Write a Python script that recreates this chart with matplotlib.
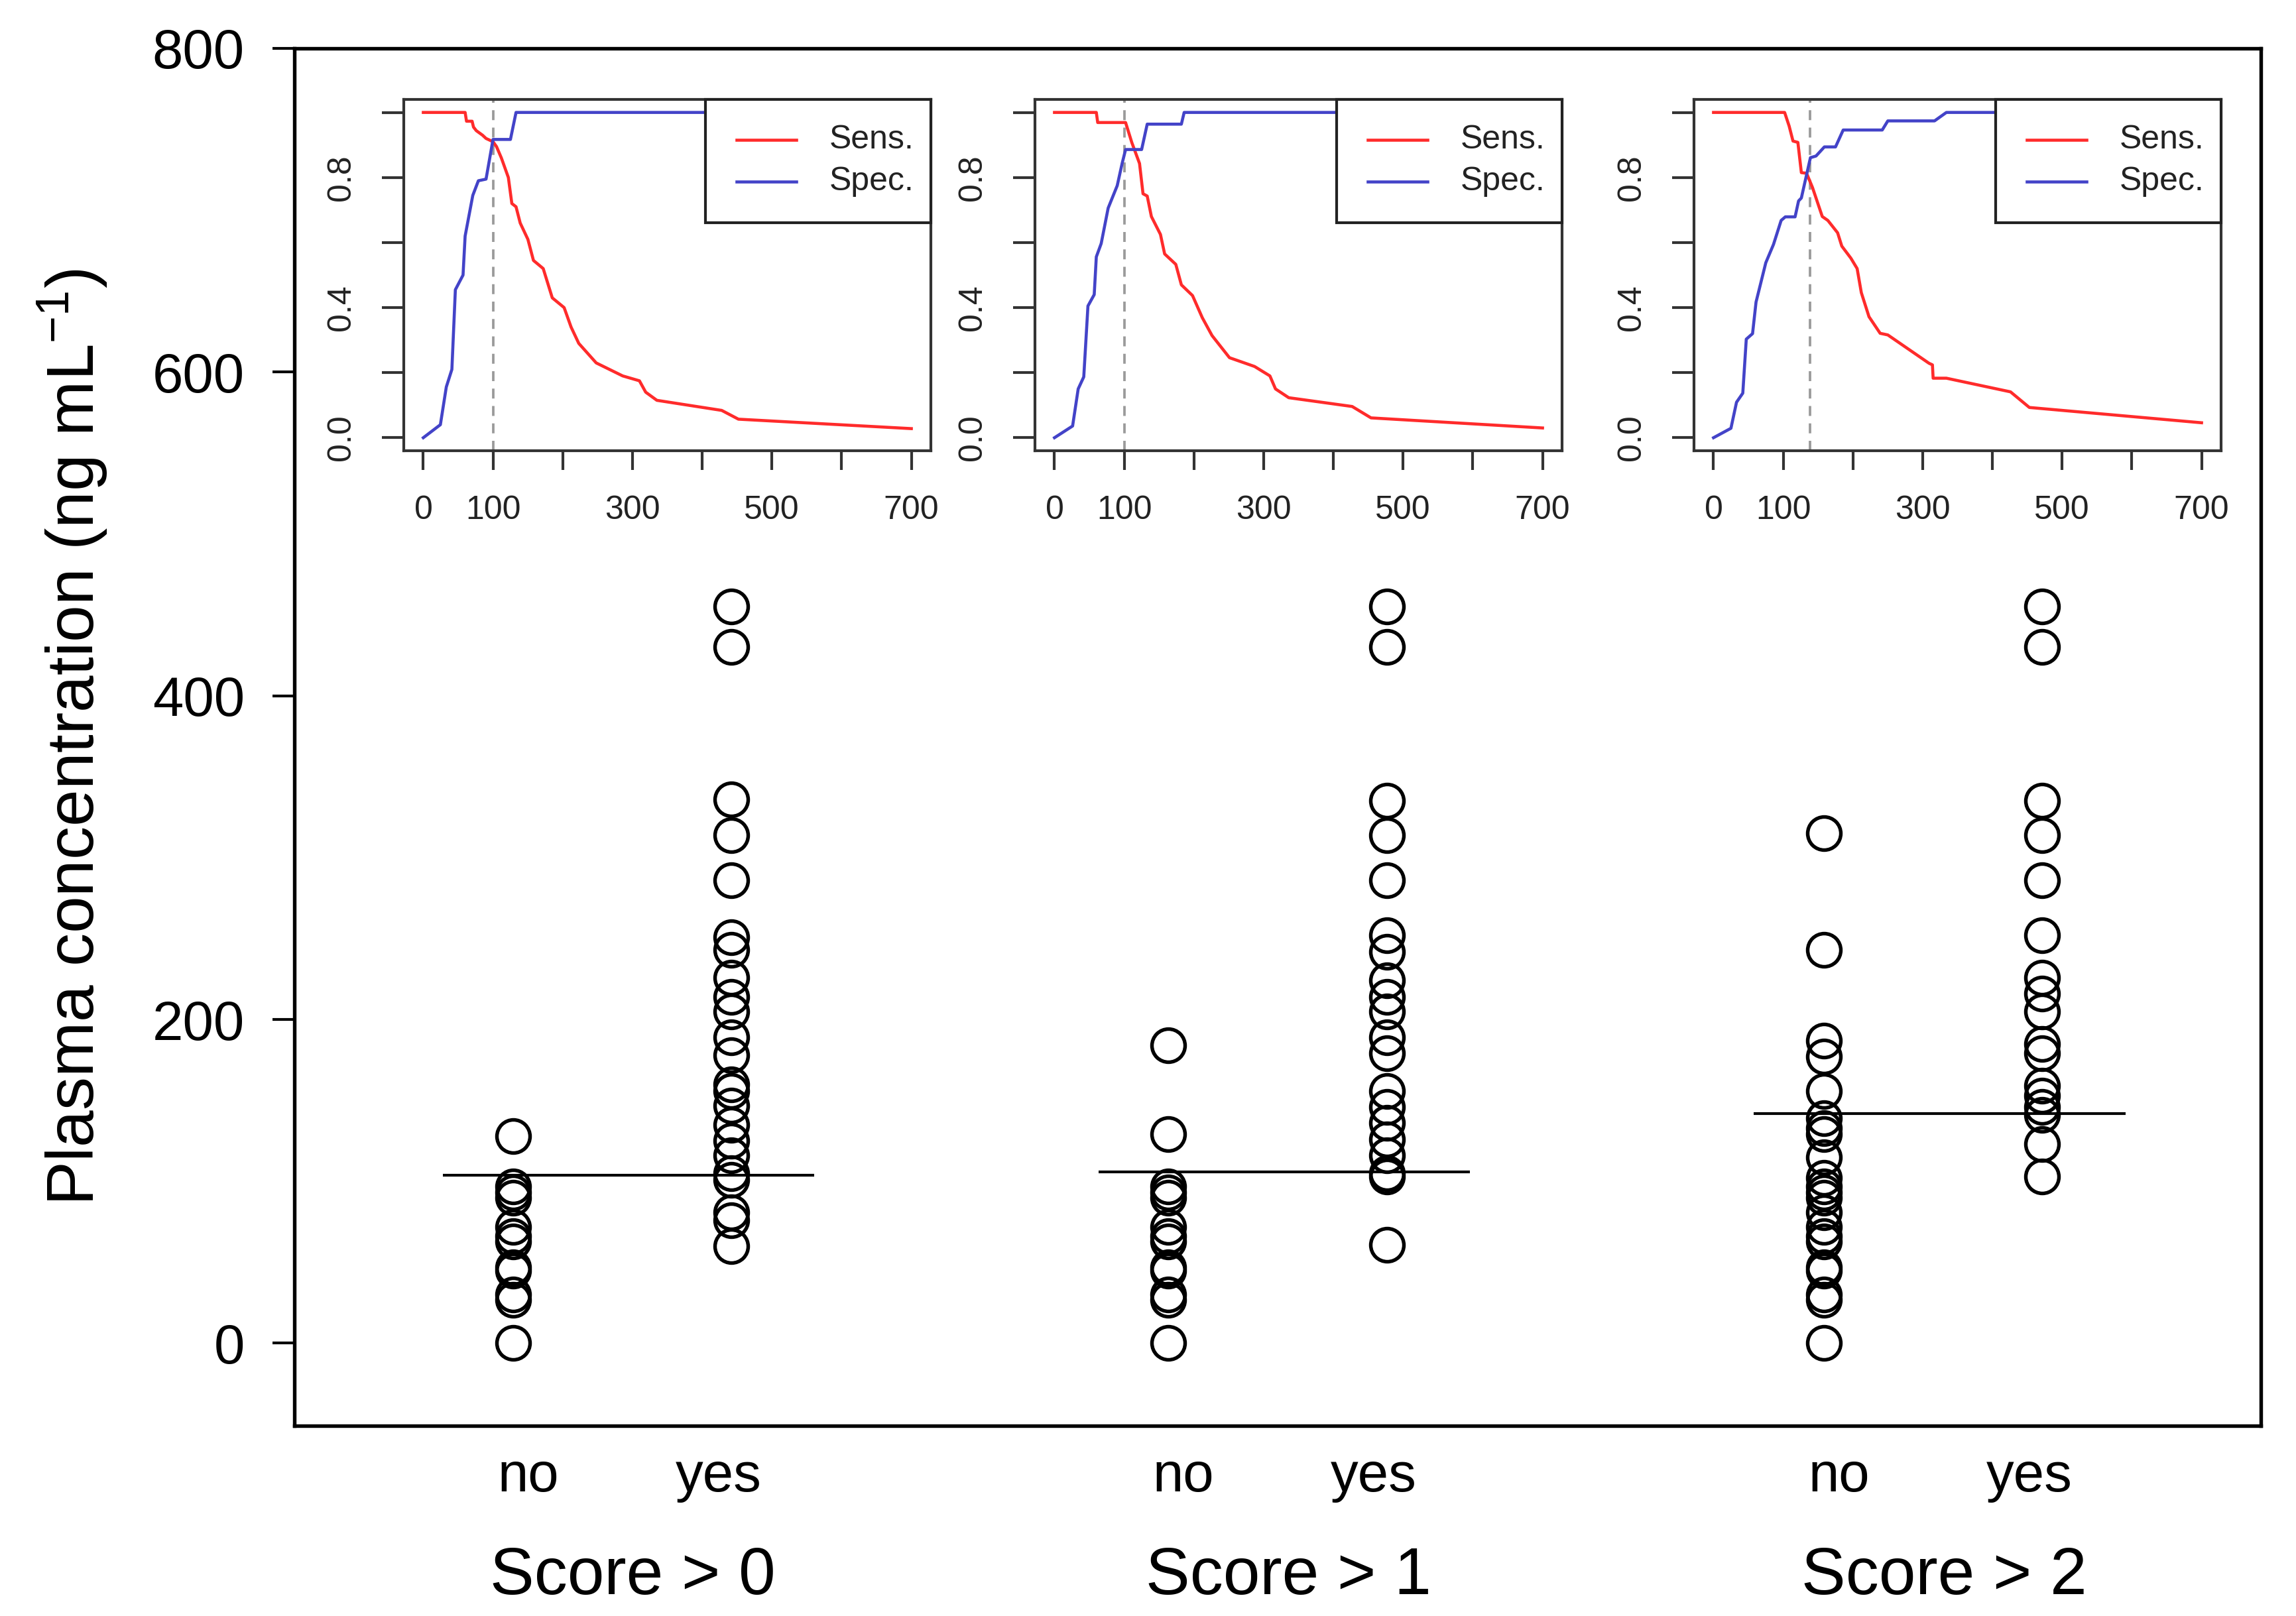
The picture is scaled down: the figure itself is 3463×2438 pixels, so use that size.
import numpy as np
import matplotlib
matplotlib.use('Agg')
import matplotlib.pyplot as plt
import matplotlib.transforms as mtransforms
from matplotlib.patches import Rectangle

plt.rcParams['font.family'] = ['Liberation Sans', 'DejaVu Sans']
plt.rcParams['mathtext.fontset'] = 'custom'
plt.rcParams['mathtext.rm'] = 'Liberation Sans'
plt.rcParams['mathtext.it'] = 'Liberation Sans:italic'

# ---- main panel data (plasma concentration, ng/mL) ----
group_labels = ['Score > 0', 'Score > 1', 'Score > 2']
cat_labels = ['no', 'yes']

no_vals = [
    [0, 27, 30, 45, 47, 63, 66, 72, 90, 93, 97, 128],
    [0, 27, 30, 45, 47, 63, 66, 72, 90, 93, 97, 129, 184],
    [0, 27, 30, 45, 47, 63, 66, 72, 81, 90, 93, 97, 102, 115, 129, 133, 139,
     156, 177, 187, 243, 315],
]
yes_vals = [
    [455, 430, 336, 314, 286, 251, 243, 226, 214, 205, 189, 178, 160, 156,
     147, 135, 125, 116, 105, 101, 81, 76, 60],
    [455, 430, 335, 314, 286, 252, 242, 224, 214, 205, 189, 179, 156, 146,
     136, 126, 116, 105, 103, 61],
    [455, 430, 335, 314, 286, 252, 226, 216, 205, 185, 179, 159, 153, 146,
     141, 123, 103],
]
cutoffs = [104, 106, 142]

# ---- inset data: sensitivity / specificity vs. threshold ----
sens_x = [
    [0, 60, 62, 70, 72, 76, 85, 90, 100, 105, 112, 122, 127, 133, 139, 150,
     158, 172, 185, 202, 212, 223, 248, 286, 310, 319, 335, 428, 452, 700],
    [0, 60, 62, 102, 111, 122, 127, 133, 139, 152, 158, 174, 182, 198, 212,
     226, 251, 287, 309, 317, 336, 427, 454, 700],
    [0, 102, 108.5, 114, 121, 126, 133.5, 142, 156, 164, 178, 184, 197, 206,
     212, 223, 239, 250, 309, 314, 315, 334, 426, 453, 700],
]
sens_y = [
    [1.0, 1.0, 0.973, 0.973, 0.955, 0.944, 0.93, 0.92, 0.91, 0.895, 0.86,
     0.80, 0.72, 0.71, 0.66, 0.61, 0.545, 0.52, 0.43, 0.40, 0.34, 0.29, 0.23,
     0.19, 0.175, 0.14, 0.115, 0.084, 0.057, 0.028],
    [1.0, 1.0, 0.969, 0.969, 0.907, 0.843, 0.75, 0.743, 0.68, 0.625, 0.565,
     0.533, 0.47, 0.437, 0.369, 0.314, 0.246, 0.219, 0.19, 0.15, 0.123,
     0.096, 0.061, 0.03],
    [1.0, 1.0, 0.958, 0.912, 0.908, 0.815, 0.813, 0.769, 0.68, 0.668, 0.63,
     0.589, 0.552, 0.52, 0.446, 0.372, 0.321, 0.316, 0.229, 0.224, 0.183,
     0.183, 0.141, 0.093, 0.046],
]
spec_x = [
    [0, 24.5, 33, 41, 46, 57, 60, 71, 79, 90, 100, 125, 133, 700],
    [0, 26, 34, 42, 48, 57, 60, 67, 77, 90, 97, 102, 125, 133, 182, 186, 700],
    [0, 25, 33, 42, 47, 56, 61, 75, 86, 97, 103, 117, 122, 126, 139, 147,
     159, 175, 186, 242, 250, 317, 334, 700],
]
spec_y = [
    [0.0, 0.04, 0.156, 0.21, 0.455, 0.50, 0.62, 0.745, 0.79, 0.795, 0.917,
     0.917, 1.0, 1.0],
    [0.0, 0.036, 0.15, 0.187, 0.405, 0.44, 0.556, 0.597, 0.706, 0.775, 0.843,
     0.886, 0.886, 0.964, 0.964, 1.0, 1.0],
    [0.0, 0.029, 0.109, 0.137, 0.303, 0.32, 0.417, 0.538, 0.594, 0.668,
     0.679, 0.679, 0.728, 0.737, 0.861, 0.866, 0.894, 0.894, 0.946, 0.946,
     0.974, 0.974, 1.0, 1.0],
]
inset_cut = [100, 100, 138]

RED = '#ff2b2b'
BLUE = '#4343c8'

W, H = 3463, 2438
fig = plt.figure(figsize=(W / 300, H / 300), dpi=300)

# ---- main axes ----
ax = fig.add_axes([444 / W, (H - 2151) / H, (3410 - 444) / W, (2151 - 73) / H])
for i in range(3):
    x0 = 1 + 3 * i
    ax.plot(np.full(len(no_vals[i]), x0), no_vals[i], 'o', mfc='none',
            mec='k', ms=12, mew=1.3, zorder=3)
    ax.plot(np.full(len(yes_vals[i]), x0 + 1), yes_vals[i], 'o', mfc='none',
            mec='k', ms=12, mew=1.3, zorder=3)
    ax.hlines(cutoffs[i], x0 - 0.32, x0 + 1.38, color='k', lw=1.0, zorder=4)

ax.set_xlim(0, 9)
ax.set_ylim(-51, 800)
ax.set_xticks([])
ax.set_yticks([0, 200, 400, 600, 800])
ax.tick_params(axis='y', length=8, width=1.0, pad=10, labelsize=20)
for s in ax.spines.values():
    s.set_linewidth(1.3)

trans = mtransforms.blended_transform_factory(ax.transData, ax.transAxes)
for i in range(3):
    x0 = 1 + 3 * i
    ax.text(x0 + 0.07, -0.0476, cat_labels[0], transform=trans, ha='center',
            va='baseline', fontsize=20)
    ax.text(x0 + 0.94, -0.0476, cat_labels[1], transform=trans, ha='center',
            va='baseline', fontsize=20)
    ax.text(x0 + 0.55, -0.1222, group_labels[i], transform=trans,
            ha='center', va='baseline', fontsize=24)

ax.set_ylabel('Plasma concentration (ng mL$^{-1}$)', fontsize=24)
ax.yaxis.set_label_coords(-0.094, 0.5)

# ---- insets ----
ins_left = [609, 1561, 2555]
ins_top, ins_w, ins_h = 150, 795, 530
for i in range(3):
    iax = fig.add_axes([ins_left[i] / W, (H - ins_top - ins_h) / H,
                        ins_w / W, ins_h / H])
    iax.set_facecolor('white')
    iax.plot(sens_x[i], sens_y[i], color=RED, lw=1.1, zorder=2)
    iax.plot(spec_x[i], spec_y[i], color=BLUE, lw=1.1, zorder=2)
    iax.axvline(inset_cut[i], color='#9a9a9a', ls=(0, (4, 3)), lw=0.9,
                zorder=1)
    iax.set_xlim(-28, 728)
    iax.set_ylim(-0.04, 1.04)
    iax.set_xticks(np.arange(0, 701, 100))
    iax.set_xticklabels(['0', '100', '', '300', '', '500', '', '700'])
    iax.set_yticks(np.arange(0, 1.01, 0.2))
    iax.set_yticklabels(['0.0', '', '0.4', '', '0.8', ''])
    iax.tick_params(axis='x', length=7, width=1.0, pad=9, labelsize=12,
                    colors='#333333', labelcolor='#222222')
    iax.tick_params(axis='y', length=8, width=1.0, pad=9, labelsize=12,
                    colors='#333333', labelcolor='#222222')
    for lab in iax.get_yticklabels():
        lab.set_rotation(90)
        lab.set_va('center')
    for s in iax.spines.values():
        s.set_linewidth(1.0)
        s.set_color('#333333')

    # legend box in the top-right corner
    iax.add_patch(Rectangle((0.572, 0.65), 0.428, 0.35,
                            transform=iax.transAxes, fc='white',
                            ec='#222222', lw=1.0, zorder=5, clip_on=False))
    iax.plot([0.631, 0.745], [0.884, 0.884], transform=iax.transAxes,
             color=RED, lw=1.1, zorder=6)
    iax.plot([0.631, 0.745], [0.766, 0.766], transform=iax.transAxes,
             color=BLUE, lw=1.1, zorder=6)
    iax.text(0.807, 0.884, 'Sens.', transform=iax.transAxes, va='center',
             ha='left', fontsize=12, color='#222222', zorder=7)
    iax.text(0.807, 0.766, 'Spec.', transform=iax.transAxes, va='center',
             ha='left', fontsize=12, color='#222222', zorder=7)

fig.savefig('out.png', dpi=300, facecolor='white')
